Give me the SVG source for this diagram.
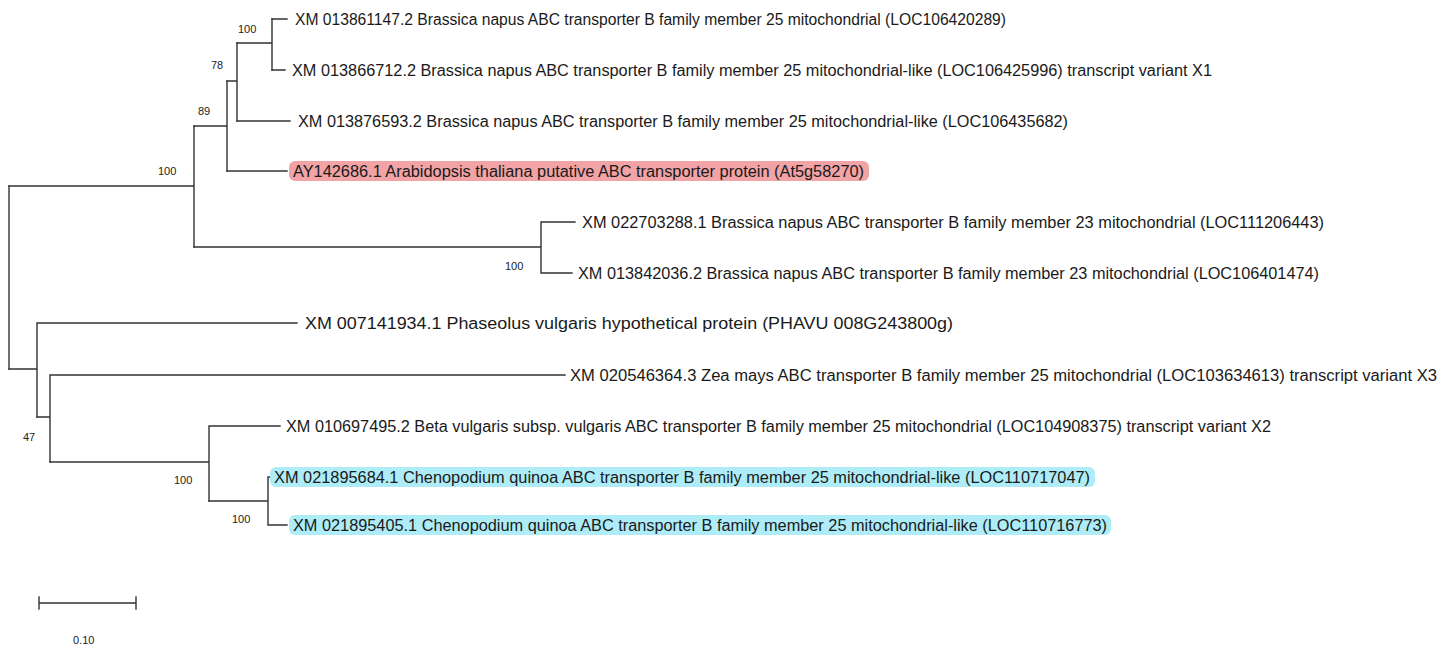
<svg xmlns="http://www.w3.org/2000/svg" width="1450" height="646" viewBox="0 0 1450 646">
<style>
.br{fill:none;stroke:#333;stroke-width:1.4;stroke-linecap:square}
.lb{font-family:"Liberation Sans",Arial,sans-serif;font-size:16px;fill:#1a1a1a}
.bs{font-family:"Liberation Sans",Arial,sans-serif;font-size:11px;fill:#222}
.pink{fill:#f2a3a6}
.cyan{fill:#aeedf7}
</style>
<rect width="1450" height="646" fill="#fff"/>
<g id="connectors">
<path class="br" d="M9,186 V369"/>
<path class="br" d="M9,186 H194 M194,126 V247"/>
<path class="br" d="M194,126 H227 M227,81 V171"/>
<path class="br" d="M227,81 H237 M237,43 V121"/>
<path class="br" d="M237,43 H272 M272,19 V70"/>
<path class="br" d="M272,19 H287 M272,70 H285"/>
<path class="br" d="M237,121 H290"/>
<path class="br" d="M227,171 H287"/>
<path class="br" d="M194,247 H541 M541,222 V273 M541,222 H575 M541,273 H572"/>
<path class="br" d="M9,369 H37 M37,323 V417 M37,323 H297"/>
<path class="br" d="M37,417 H50 M50,375 V462 M50,375 H565"/>
<path class="br" d="M50,462 H209 M209,426 V501 M209,426 H280"/>
<path class="br" d="M209,501 H268 M268,477 V525 M268,477 H270 M268,525 H287"/>
</g>
<g id="bootstrap">
<text class="bs" x="238" y="33">100</text>
<text class="bs" x="211" y="69">78</text>
<text class="bs" x="198" y="115">89</text>
<text class="bs" x="158" y="175">100</text>
<text class="bs" x="505" y="270">100</text>
<text class="bs" x="23" y="441">47</text>
<text class="bs" x="174" y="484">100</text>
<text class="bs" x="232" y="523">100</text>
</g>
<g id="leaf1"><text class="lb" x="295" y="25" textLength="711" lengthAdjust="spacingAndGlyphs">XM 013861147.2 Brassica napus ABC transporter B family member 25 mitochondrial (LOC106420289)</text></g>
<g id="leaf2"><text class="lb" x="292" y="76" textLength="920" lengthAdjust="spacingAndGlyphs">XM 013866712.2 Brassica napus ABC transporter B family member 25 mitochondrial-like (LOC106425996) transcript variant X1</text></g>
<g id="leaf3"><text class="lb" x="298" y="127" textLength="770" lengthAdjust="spacingAndGlyphs">XM 013876593.2 Brassica napus ABC transporter B family member 25 mitochondrial-like (LOC106435682)</text></g>
<g id="leaf4"><rect class="pink" x="289" y="161" width="580" height="20" rx="6"/><text class="lb" x="293" y="177" textLength="571" lengthAdjust="spacingAndGlyphs">AY142686.1 Arabidopsis thaliana putative ABC transporter protein (At5g58270)</text></g>
<g id="leaf5"><text class="lb" x="582" y="228" textLength="742" lengthAdjust="spacingAndGlyphs">XM 022703288.1 Brassica napus ABC transporter B family member 23 mitochondrial (LOC111206443)</text></g>
<g id="leaf6"><text class="lb" x="578" y="279" textLength="741" lengthAdjust="spacingAndGlyphs">XM 013842036.2 Brassica napus ABC transporter B family member 23 mitochondrial (LOC106401474)</text></g>
<g id="leaf7"><text class="lb" x="305" y="329" textLength="648" lengthAdjust="spacingAndGlyphs">XM 007141934.1 Phaseolus vulgaris hypothetical protein (PHAVU 008G243800g)</text></g>
<g id="leaf8"><text class="lb" x="570" y="381" textLength="867" lengthAdjust="spacingAndGlyphs">XM 020546364.3 Zea mays ABC transporter B family member 25 mitochondrial (LOC103634613) transcript variant X3</text></g>
<g id="leaf9"><text class="lb" x="286" y="432" textLength="985" lengthAdjust="spacingAndGlyphs">XM 010697495.2 Beta vulgaris subsp. vulgaris ABC transporter B family member 25 mitochondrial (LOC104908375) transcript variant X2</text></g>
<g id="leaf10"><rect class="cyan" x="270" y="467" width="825" height="20" rx="6"/><text class="lb" x="274" y="483" textLength="816" lengthAdjust="spacingAndGlyphs">XM 021895684.1 Chenopodium quinoa ABC transporter B family member 25 mitochondrial-like (LOC110717047)</text></g>
<g id="leaf11"><rect class="cyan" x="289" y="515" width="822" height="20" rx="6"/><text class="lb" x="293" y="531" textLength="814" lengthAdjust="spacingAndGlyphs">XM 021895405.1 Chenopodium quinoa ABC transporter B family member 25 mitochondrial-like (LOC110716773)</text></g>
<g id="scale">
<path class="br" d="M39,603 H136 M39,597 V609 M136,597 V609"/>
<text class="bs" x="73" y="644">0.10</text>
</g>
</svg>
